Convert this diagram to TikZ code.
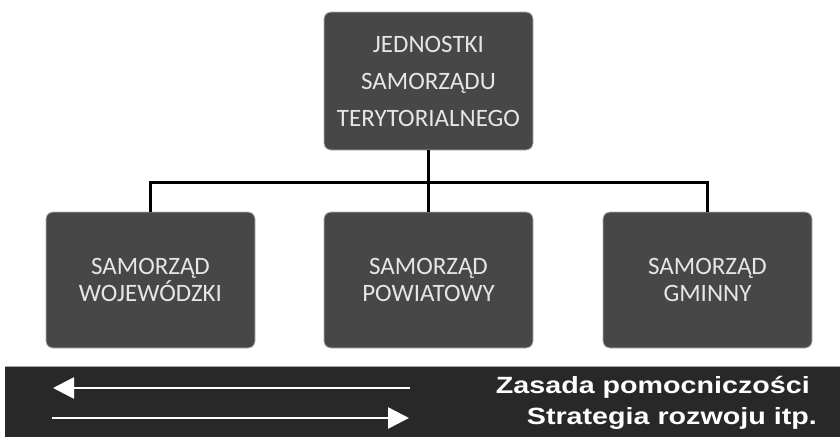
\documentclass[tikz,border=0pt]{standalone}
\usepackage{fontspec}
\setmainfont{Carlito}
\newfontfamily\bandfont{Liberation Sans}
\usetikzlibrary{arrows.meta}
\definecolor{boxfill}{HTML}{474747}
\definecolor{boxtext}{HTML}{E6E6E6}
\definecolor{bandfill}{HTML}{282828}
\tikzset{
  unitbox/.style={draw=gray!60, line width=0.8pt, fill=boxfill, rounded corners=7pt, text=boxtext, align=center, font=\fontsize{25}{27}\selectfont, minimum width=209pt, minimum height=136pt, inner sep=0pt},
  topbox/.style={unitbox, minimum height=138pt, font=\fontsize{25}{37}\selectfont},
  conn/.style={line width=3pt, black},
  bandarrow/.style={white, line width=2.5pt, -{Triangle[length=21pt, width=21pt]}},
  bandtext/.style={text=white, anchor=east, inner sep=0pt, font=\bandfont\bfseries\fontsize{23.5}{24}\selectfont}
}
\begin{document}
\begin{tikzpicture}[x=1pt, y=-1pt]
\useasboundingbox (0,0) rectangle (840,437);
\fill[white] (0,0) rectangle (840,437);
\node[topbox] (top) at (428.5,81) {JEDNOSTKI\\SAMORZĄDU\\TERYTORIALNEGO};
\node[unitbox] (woj) at (150.5,280) {SAMORZĄD\\WOJEWÓDZKI};
\node[unitbox] (pow) at (428.5,280) {SAMORZĄD\\POWIATOWY};
\node[unitbox] (gmi) at (707.5,280) {SAMORZĄD\\GMINNY};
\coordinate (hub) at (428.5,182);
\draw[conn] (top.south) -- (hub);
\draw[conn] (hub) -- (pow.north);
\draw[conn] (woj.north) -- (woj.north |- hub) -- (gmi.north |- hub) -- (gmi.north);
\fill[bandfill] (5,366) rectangle (840,437);
\draw[gray!70, line width=1pt] (5,366.5) -- (840,366.5);
\coordinate (a1s) at (410,388);
\coordinate (a1e) at (53,388);
\coordinate (a2s) at (52,418);
\coordinate (a2e) at (409,418);
\draw[bandarrow] (a1s) -- (a1e);
\draw[bandarrow] (a2s) -- (a2e);
\node[bandtext] (t1) at (810,387) {\scalebox{1.22}[1]{Zasada pomocniczości}};
\node[bandtext] (t2) at (817,418) {\scalebox{1.22}[1]{Strategia rozwoju itp.}};
\end{tikzpicture}
\end{document}
